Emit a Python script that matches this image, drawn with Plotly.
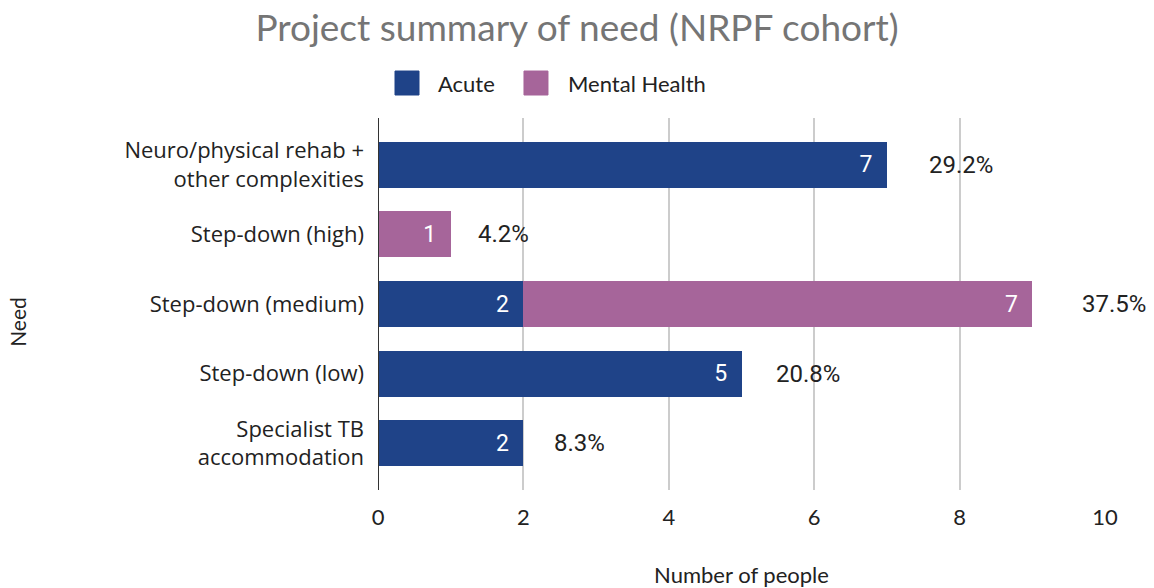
import plotly.graph_objects as go

categories = ["Neuro/physical rehab +<br>other complexities", "Step-down (high)", "Step-down (medium)",
              "Step-down (low)", "Specialist TB<br>accommodation"]
acute = [7, 0, 2, 5, 2]
mental_health = [0, 1, 7, 0, 0]
pct_labels = ["29.2%", "4.2%", "37.5%", "20.8%", "8.3%"]
x_ticks = [0, 2, 4, 6, 8, 10]
series_names = ["Acute", "Mental Health"]

ACUTE_C = "#1f4388"
MH_C = "#a6659a"
LABEL_FONT = "Lato, Open Sans, sans-serif"
TICK_FONT = "Open Sans, Lato, sans-serif"
NUM_FONT = "Roboto, Arial, sans-serif"
TXT_C = "#222222"
X_RANGE = [0, 10]

fig = go.Figure()
for name, vals, col in [(series_names[0], acute, ACUTE_C), (series_names[1], mental_health, MH_C)]:
    fig.add_trace(go.Bar(
        y=categories, x=vals, orientation="h", name=name, showlegend=False,
        marker=dict(color=col, line=dict(width=0)),
        text=[f"{v}\u00a0\u00a0" if v else "" for v in vals], textposition="inside",
        insidetextanchor="end", textangle=0,
        textfont=dict(color="white", size=23, family=NUM_FONT),
    ))

totals = [a + m for a, m in zip(acute, mental_health)]
span = X_RANGE[1] - X_RANGE[0]
for cat, tot, lab in zip(categories, totals, pct_labels):
    xpos = (tot * 1.05 + 0.67 - X_RANGE[0]) / span
    fig.add_annotation(xref="paper", x=xpos, yref="y", y=cat, text=lab, showarrow=False,
                       xanchor="center", font=dict(size=24, color=TXT_C, family=NUM_FONT))

# legend (drawn to match the large rounded swatches of the original)
legend_items = [(series_names[0], ACUTE_C, 0.0234, 0.0798), (series_names[1], MH_C, 0.2008, 0.2586)]
for name, col, sx, tx in legend_items:
    fig.add_shape(type="rect", xref="paper", yref="paper", x0=sx, x1=sx + 0.033, y0=1.0618, y1=1.1263,
                  fillcolor=col, line=dict(color=col, width=1))
    fig.add_annotation(xref="paper", yref="paper", x=tx, y=1.094, text=name, showarrow=False,
                       xanchor="left", yanchor="middle",
                       font=dict(size=22, color=TXT_C, family=LABEL_FONT))

# y-axis title (placed as in the original, slightly below the plot centre)
fig.add_annotation(xref="paper", yref="paper", x=0, xshift=-360, y=0.452, text="Need", textangle=-90,
                   showarrow=False, xanchor="center", yanchor="middle",
                   font=dict(size=21, color=TXT_C, family=LABEL_FONT))

n = len(categories)
fig.update_layout(
    barmode="stack", bargap=0.34,
    width=1154, height=588,
    paper_bgcolor="white", plot_bgcolor="white",
    margin=dict(l=378, r=49, t=118, b=98, autoexpand=False),
    showlegend=False,
    title=dict(text="Project summary of need (NRPF cohort)", x=0.5, xref="container", xanchor="center",
               y=0.952, yref="container", yanchor="middle",
               font=dict(size=37, color="#757575", family=LABEL_FONT)),
    xaxis=dict(range=X_RANGE, tickvals=x_ticks, showgrid=True, gridcolor="#cccccc", gridwidth=1.5,
               zeroline=False, showline=False, ticks="", automargin=False, ticklabelstandoff=12,
               tickfont=dict(size=22, color=TXT_C, family=LABEL_FONT),
               title=dict(text="Number of people", standoff=45,
                          font=dict(size=22, color=TXT_C, family=LABEL_FONT))),
    yaxis=dict(range=[n - 1 + 0.67, -0.67], showgrid=False, showline=False, zeroline=False, ticks="",
               automargin=False, ticklabelstandoff=13,
               tickfont=dict(size=22, color=TXT_C, family=TICK_FONT)),
)
fig.add_shape(type="line", xref="x", yref="paper", x0=0, x1=0, y0=0, y1=1,
              line=dict(color="#333333", width=2), layer="above")

fig.write_html("out.html", config={"displayModeBar": False},
               post_script="document.body.style.margin='0';document.body.style.overflow='hidden';")
